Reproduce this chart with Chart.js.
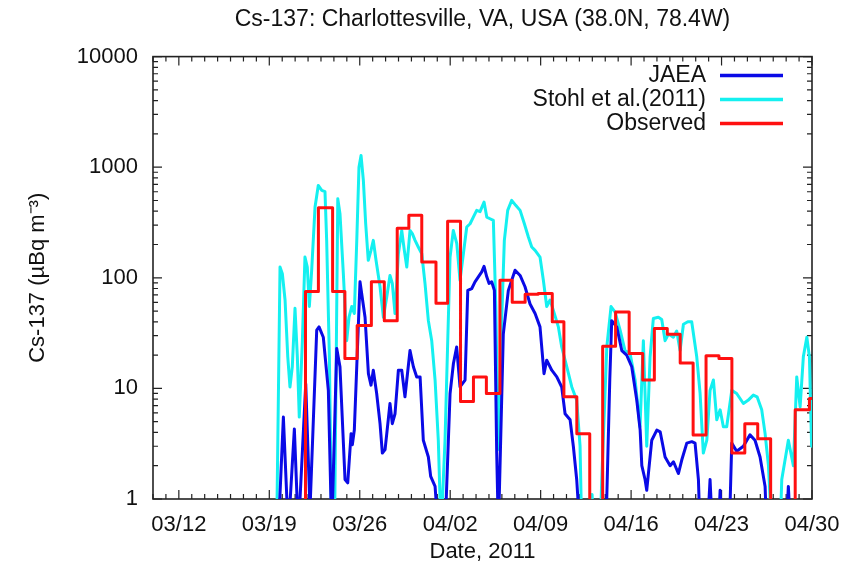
<!DOCTYPE html>
<html>
<head>
<meta charset="utf-8">
<script src="https://cdn.jsdelivr.net/npm/chart.js@4.4.1/dist/chart.umd.min.js"></script>
<style>
  html, body { margin: 0; padding: 0; background: #fff; }
</style>
</head>
<body>
<canvas id="chart" width="859" height="573"></canvas>
<script>
// x values are days since 03/10 00:00 (2011); values below 1 sit off the bottom of the log axis

// tick labels
const tickDays = [2, 9, 16, 23, 30, 37, 44, 51];
const tickLabels = ['03/12', '03/19', '03/26', '04/02', '04/09', '04/16', '04/23', '04/30'];
const yTicks = [1, 10, 100, 1000, 10000];
const seriesNames = ['JAEA', 'Stohl et al.(2011)', 'Observed'];

// Observed: start day of each sampling interval and its value
const obsDay = [10.8, 11.8, 12.8, 13.9, 14.85, 15.8, 16.9, 17.9, 18.9, 19.8, 20.8, 21.9, 22.8, 23.8, 24.8, 25.8,
    26.85, 27.8, 28.8, 29.8, 30.9, 31.8, 32.8, 33.8, 34.8, 35.8, 36.85, 37.9, 38.8, 39.8, 40.8, 41.8,
    42.8, 43.8, 44.8, 45.8, 46.8, 47.8, 48.8, 49.7, 50.8, 51];
const obsValue = [0.5, 75, 430, 75, 18.6, 37, 92, 41, 280, 367, 139, 59, 324, 7.6, 12.7, 9.0,
    95, 60, 71, 72, 40, 8.4, 3.9, 0.5, 24, 49, 20.7, 11.9, 34.8, 30.9, 17, 3.8,
    19.7, 18.6, 2.6, 4.8, 3.5, 0.5, 0.5, 6.4, 8.1, 8.1];

// JAEA model
const jaeaDay = [9.7, 10.09, 10.47, 10.94, 11.25, 11.82, 12.15, 12.67, 12.85, 13.18, 13.57, 13.83,
    14.22, 14.47, 14.86, 15.07, 15.33, 15.43, 15.58, 16.02, 16.41, 16.67, 16.87, 17.05, 17.31, 17.57,
    17.75, 17.96, 18.34, 18.52, 18.73, 18.99, 19.25, 19.5, 19.89, 20.15, 20.41, 20.67, 20.92, 21.31,
    21.49, 21.83, 22.08, 22.6, 22.99, 23.25, 23.5, 23.76, 24.15, 24.36, 24.67, 24.92, 25.18, 25.44,
    25.62, 25.83, 26.01, 26.21, 26.42, 26.6, 26.73, 27.11, 27.5, 28.02, 28.41, 28.79, 29.18, 29.57,
    29.95, 30.26, 30.47, 30.86, 31.25, 31.63, 31.89, 32.28, 32.53, 32.79, 33.05, 35.05, 35.35, 35.5,
    35.89, 36.28, 36.66, 37.05, 37.44, 37.7, 37.83, 38.08, 38.21, 38.6, 38.99, 39.25, 39.63, 40.02,
    40.28, 40.66, 40.92, 41.31, 41.7, 41.95, 42.21, 42.34, 42.9, 43.11, 43.3, 43.75, 43.89, 44.05,
    44.6, 44.79, 45.17, 45.69, 46.2, 46.59, 46.98, 47.37, 47.5, 49.0, 49.17, 49.35, 51];
const jaeaValue = [0.5, 5.5, 0.5, 4.3, 0.5, 11, 0.8, 33.6, 36, 29, 9.6, 0.5,
    23, 15.7, 1.5, 1.4, 3.9, 3.1, 4.2, 92, 44, 13.6, 10.7, 14.6, 9.0, 4.8,
    2.6, 2.8, 7.3, 4.8, 5.9, 14.6, 14.6, 8.4, 22, 15.7, 12.7, 12.7, 3.4, 2.4,
    1.6, 1.3, 0.5, 0.5, 9.0, 16.8, 23.7, 10.3, 11.9, 77, 80, 92, 102, 113,
    127, 102, 89, 92, 77, 2.6, 0.5, 31, 77, 117, 105, 83, 58, 47.5,
    36, 13.6, 18, 14.6, 12.7, 10.3, 5.9, 5.2, 3.0, 1.5, 0.5, 0.5, 11.9, 41,
    36, 22, 20, 15.7, 7.8, 4.2, 2.0, 1.5, 1.2, 3.4, 4.2, 4.05, 2.4, 2.0,
    2.17, 1.7, 2.25, 3.2, 3.3, 3.2, 1.5, 0.5, 0.5, 1.5, 0.5, 0.5, 1.2, 0.5,
    0.5, 3.2, 2.7, 3.0, 3.8, 3.4, 2.4, 1.3, 0.5, 0.5, 1.3, 0.5, 0.5];

// Stohl et al. (2011) model
const stohlDay = [9.57, 9.83, 10.01, 10.22, 10.43, 10.6, 10.78, 10.99, 11.17, 11.32, 11.56, 11.76,
    11.94, 12.1, 12.28, 12.54, 12.79, 13.06, 13.31, 13.44, 13.65, 13.83, 14.05, 14.3, 14.47, 14.73,
    14.99, 15.17, 15.38, 15.58, 15.77, 15.94, 16.1, 16.28, 16.46, 16.66, 16.87, 17.05, 17.26, 17.57,
    17.83, 18.09, 18.34, 18.52, 18.73, 18.99, 19.25, 19.45, 19.64, 19.89, 20.07, 20.28, 20.53, 20.8,
    21.05, 21.31, 21.57, 21.83, 22.08, 22.29, 22.6, 22.81, 22.99, 23.24, 23.51, 23.76, 24.02, 24.28,
    24.54, 24.79, 25.05, 25.31, 25.62, 25.83, 26.08, 26.34, 26.53, 26.68, 26.78, 26.93, 27.19, 27.45,
    27.76, 28.07, 28.41, 28.74, 29.05, 29.31, 29.57, 29.95, 30.21, 30.47, 30.73, 30.98, 31.37, 31.63,
    32.02, 32.41, 32.79, 33.05, 33.18, 33.82, 33.98, 34.13, 34.6, 34.73, 35.12, 35.45, 35.76, 36.15,
    36.53, 36.92, 37.31, 37.69, 37.95, 38.21, 38.47, 38.72, 39.11, 39.37, 39.63, 39.89, 40.27, 40.53,
    40.79, 41.05, 41.39, 41.69, 42.08, 42.34, 42.59, 42.86, 43.11, 43.37, 43.63, 43.89, 44.14, 44.4,
    44.79, 45.17, 45.69, 46.05, 46.46, 46.75, 47.11, 47.37, 47.63, 47.89, 48.53, 48.66, 49.17, 49.56,
    49.82, 50.08, 50.33, 50.6, 50.8, 50.97];
const stohlValue = [0.5, 125, 109, 63, 19.3, 10.3, 15.7, 53, 19.3, 5.5, 27, 154,
    125, 55, 117, 436, 684, 617, 600, 218, 19.3, 0.5, 0.5, 519, 380, 109,
    27, 44, 55, 47.5, 218, 1000, 1277, 760, 308, 144, 177, 218, 144, 83,
    44, 67, 105, 89, 47.5, 165, 268, 177, 125, 268, 251, 218, 190, 165,
    89, 41, 27, 11.9, 3.4, 0.5, 3.4, 27, 154, 268, 204, 95, 165, 288,
    308, 354, 407, 396, 484, 354, 342, 330, 55, 4.8, 2.8, 27, 218, 407,
    501, 452, 407, 308, 234, 190, 177, 154, 95, 55, 63, 51, 36, 23.7,
    15.7, 10.3, 7.8, 3.0, 0.5, 0.5, 1.1, 0.5, 0.5, 1.5, 23.7, 55, 49, 33.6,
    22, 20.7, 11.9, 4.5, 27, 3, 19.3, 42.8, 44, 42, 27, 31, 29, 33,
    22, 38, 40, 40, 19.3, 9.0, 2.6, 3.4, 9.6, 11.9, 5.2, 6.4, 4.5, 4.5,
    9.6, 9.0, 7.3, 7.8, 8.7, 8.4, 6.4, 3.9, 2.0, 0.5, 0.5, 1.5, 3.4, 2.0,
    12.7, 6.8, 19.3, 29, 19.3, 3.0];

const toPoints = (days, vals) => days.map((d, i) => ({ x: d, y: vals[i] }));

const FONT = "'Liberation Sans', Arial, Helvetica, sans-serif";

// frame with inward ticks on all four sides, and the key in the upper right
const gnuplotFrame = {
    id: 'gnuplotFrame',
    beforeDatasetsDraw(chart) {
        const { ctx, chartArea: a, scales: { x, y } } = chart;
        ctx.save();
        ctx.strokeStyle = '#222';
        ctx.lineWidth = 1.2;
        ctx.beginPath();
        for (let d = Math.ceil(x.min); d <= x.max; d++) {
            const px = x.getPixelForValue(d);
            const len = tickDays.includes(d) ? 9 : 5;
            ctx.moveTo(px, a.bottom); ctx.lineTo(px, a.bottom - len);
            ctx.moveTo(px, a.top); ctx.lineTo(px, a.top + len);
        }
        for (let p = 1; p < 10000; p *= 10) {
            for (let k = 1; k <= 10; k++) {
                const py = y.getPixelForValue(p * k);
                const len = (k === 1 || k === 10) ? 9 : 5;
                ctx.moveTo(a.left, py); ctx.lineTo(a.left + len, py);
                ctx.moveTo(a.right, py); ctx.lineTo(a.right - len, py);
            }
        }
        ctx.stroke();
        ctx.lineWidth = 1.6;
        ctx.strokeRect(a.left, a.top, a.width, a.height);
        ctx.restore();
    },
    afterDraw(chart) {
        const { ctx, chartArea: a } = chart;
        ctx.save();
        ctx.font = '23px ' + FONT;
        ctx.textAlign = 'right';
        ctx.textBaseline = 'middle';
        seriesNames.forEach((name, i) => {
            const ds = chart.data.datasets.find(d => d.label === name);
            const yy = a.top + 19 + i * 24;
            ctx.fillStyle = '#111';
            ctx.fillText(name, a.right - 106, yy);
            ctx.strokeStyle = ds.borderColor;
            ctx.lineWidth = 3.5;
            ctx.beginPath();
            ctx.moveTo(a.right - 92, yy);
            ctx.lineTo(a.right - 29, yy);
            ctx.stroke();
        });
        ctx.restore();
    }
};

new Chart(document.getElementById('chart'), {
    type: 'line',
    data: {
        datasets: [{
            label: seriesNames[0],
            data: toPoints(jaeaDay, jaeaValue),
            borderColor: '#0a0ae6',
            borderWidth: 3,
            order: 1
        }, {
            label: seriesNames[1],
            data: toPoints(stohlDay, stohlValue),
            borderColor: '#14f0f0',
            borderWidth: 3,
            order: 2
        }, {
            label: seriesNames[2],
            data: toPoints(obsDay, obsValue),
            borderColor: '#ff1010',
            borderWidth: 3,
            stepped: 'before',
            order: 0
        }]
    },
    options: {
        responsive: false,
        animation: false,
        devicePixelRatio: 1,
        layout: { padding: { left: 0, right: 47, top: 0, bottom: 0 } },
        elements: {
            point: { radius: 0 },
            line: { tension: 0, borderJoinStyle: 'round', borderCapStyle: 'round' }
        },
        plugins: {
            legend: { display: false },
            tooltip: { enabled: false },
            title: {
                display: true,
                fullSize: false,
                text: 'Cs-137: Charlottesville, VA, USA (38.0N, 78.4W)',
                color: '#111',
                font: { family: FONT, size: 23, weight: 'normal' },
                padding: { top: 6, bottom: 23 }
            }
        },
        scales: {
            x: {
                type: 'linear',
                min: 0,
                max: 51,
                grid: { display: false, drawTicks: false },
                border: { display: false },
                afterBuildTicks: s => { s.ticks = tickDays.map(v => ({ value: v })); },
                afterFit: s => { s.height = 74; },
                ticks: {
                    autoSkip: false,
                    maxRotation: 0,
                    padding: 13,
                    color: '#111',
                    font: { family: FONT, size: 22 },
                    callback: v => tickLabels[tickDays.indexOf(v)]
                },
                title: {
                    display: true,
                    text: 'Date, 2011',
                    color: '#111',
                    font: { family: FONT, size: 22 },
                    padding: { top: 0, bottom: 8 }
                }
            },
            y: {
                type: 'logarithmic',
                min: 1,
                max: 10000,
                grid: { display: false, drawTicks: false },
                border: { display: false },
                afterBuildTicks: s => { s.ticks = yTicks.map(v => ({ value: v })); },
                afterFit: s => { s.width = 153; },
                ticks: {
                    padding: 15,
                    color: '#111',
                    font: { family: FONT, size: 22 },
                    callback: v => String(v)
                },
                title: {
                    display: true,
                    text: 'Cs-137 (µBq m⁻³)',
                    color: '#111',
                    font: { family: FONT, size: 22 },
                    padding: { top: 25, bottom: 0 }
                }
            }
        }
    },
    plugins: [gnuplotFrame]
});
</script>
</body>
</html>
